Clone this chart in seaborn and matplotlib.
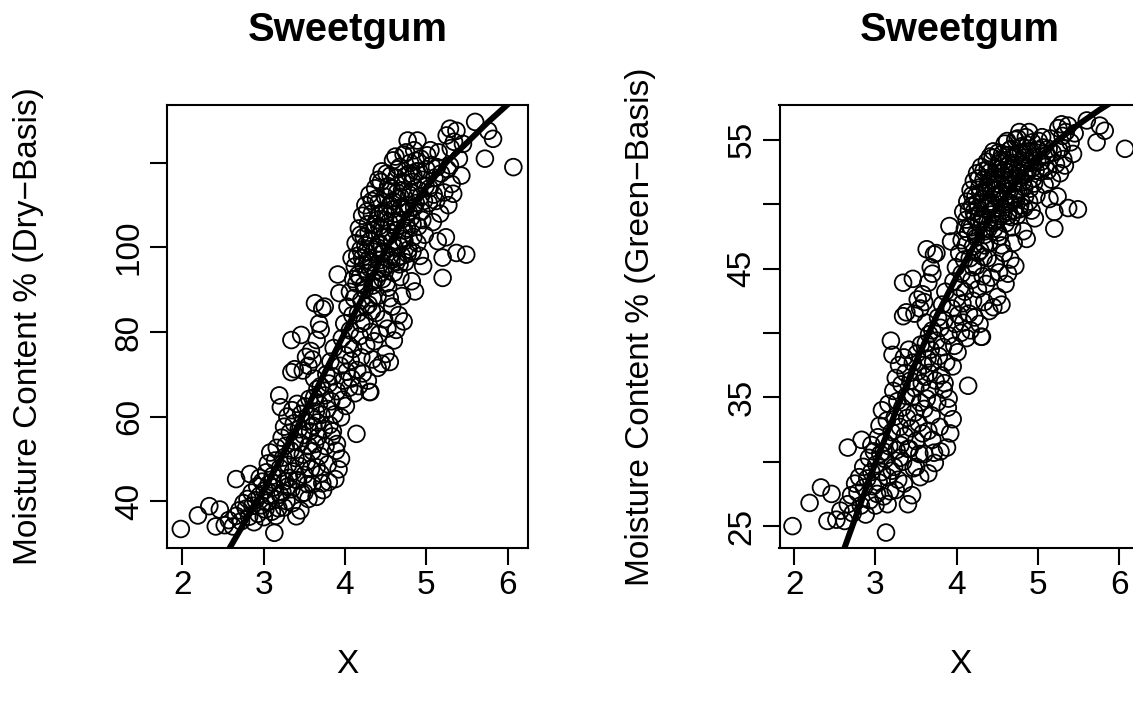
import matplotlib
matplotlib.use("Agg")
import matplotlib.pyplot as plt
import seaborn as sns
import pandas as pd

# ---------------- data ----------------
x_vals = [
    1.98, 2.19, 2.33, 2.46, 2.41, 2.52, 2.66, 2.83, 2.57,
    2.62, 2.66, 2.70, 2.72, 2.75, 2.78, 2.80, 2.82, 2.85, 2.86, 2.88, 2.90, 2.92, 2.93, 2.95, 2.97,
    2.98, 3.00, 3.01, 3.03, 3.04, 3.05, 3.06, 3.08, 3.08, 3.10, 3.11, 3.12, 3.13, 3.14, 3.15, 3.16, 3.17,
    3.18, 3.19, 3.20, 3.21, 3.22, 3.23, 3.24, 3.25, 3.26, 3.27, 3.28, 3.29, 3.30, 3.31, 3.32, 3.33,
    3.34, 3.35, 3.36, 3.37, 3.38, 3.39, 3.40, 3.41, 3.42, 3.43, 3.44, 3.45, 3.46, 3.47, 3.48, 3.49,
    3.50, 3.51, 3.52, 3.53, 3.54, 3.55, 3.56, 3.57, 3.58, 3.59, 3.60,
    3.34, 3.46, 3.34, 3.38, 3.48, 3.52, 3.55, 3.58, 3.63, 3.65, 3.68, 3.72, 3.75, 3.70, 3.62, 3.66, 3.60,
    3.61, 3.62, 3.63, 3.64, 3.65, 3.66, 3.67, 3.68, 3.69, 3.70, 3.71, 3.72, 3.73, 3.74, 3.75, 3.76,
    3.77, 3.78, 3.79, 3.80, 3.81, 3.82, 3.83, 3.84, 3.85, 3.86, 3.87, 3.88, 3.89, 3.90, 3.91, 3.92,
    3.93, 3.94, 3.95, 3.96, 3.97, 3.98, 3.99, 4.00, 4.01, 4.02, 4.03, 4.04, 4.05, 4.06, 4.07, 4.08,
    4.09, 4.10,
    4.12, 4.14, 4.15, 4.17, 4.18, 4.20, 4.22, 4.24, 4.26, 4.28, 4.30, 4.31, 4.32, 4.34, 4.36, 4.38,
    4.40, 4.42, 4.45, 4.48, 4.50, 4.52, 4.55, 4.58, 4.60, 4.63, 4.66, 4.70, 4.72,
    4.11, 4.12, 4.13, 4.14, 4.15, 4.16, 4.17, 4.18, 4.19, 4.20, 4.21, 4.22, 4.23, 4.24, 4.25, 4.26,
    4.27, 4.28, 4.29, 4.30, 4.31, 4.32, 4.33, 4.34, 4.35, 4.36, 4.37, 4.38, 4.39, 4.40, 4.41, 4.42,
    4.43, 4.44, 4.45, 4.46, 4.47, 4.48, 4.49, 4.50, 4.51, 4.52, 4.53, 4.54, 4.55, 4.56, 4.57, 4.58,
    4.59, 4.60, 4.61, 4.62, 4.63, 4.64, 4.65, 4.66, 4.67, 4.68, 4.69, 4.70, 4.71, 4.72, 4.73, 4.74,
    4.75, 4.76, 4.77, 4.78, 4.79, 4.80, 4.81, 4.82, 4.83, 4.84, 4.85, 4.86, 4.87, 4.88, 4.89, 4.90,
    4.91, 4.92, 4.93, 4.94, 4.95, 4.96, 4.97, 4.98, 5.00, 5.01, 5.03,
    4.28, 4.35, 4.42, 4.47, 4.52, 4.58, 4.63, 4.68, 4.73, 4.78, 4.83, 4.55, 4.40, 4.33, 4.45, 4.62, 4.50,
    5.04, 5.06, 5.08, 5.10, 5.12, 5.14, 5.15, 5.17, 5.18, 5.20, 5.20, 5.22, 5.24, 5.25, 5.26, 5.27,
    5.29, 5.29, 5.30, 5.31, 5.33, 5.34, 5.37, 5.37, 5.40, 5.43, 5.45, 5.49, 5.60, 5.72, 5.76, 5.82, 6.07,
    2.95, 3.02, 3.10, 3.15, 3.20, 3.25, 3.30, 3.35, 3.40, 3.45, 3.50, 3.55, 3.60, 3.65, 3.70, 3.80,
    3.85, 3.90, 3.95,
    4.16, 4.19, 4.21, 4.23, 4.25, 4.27, 4.29, 4.31, 4.33, 4.35, 4.37, 4.39, 4.41, 4.43, 4.45, 4.47,
    4.49, 4.51, 4.53, 4.55, 4.57, 4.59, 4.61, 4.63, 4.65, 4.67, 4.69, 4.71, 4.73, 4.75, 4.77, 4.79,
    4.81, 4.83, 4.85, 4.87, 4.89, 4.91, 4.93, 4.95, 4.38, 4.44, 4.56, 4.64, 4.70, 4.76, 4.84, 4.99,
    5.05, 5.09, 5.13, 4.20, 4.26, 4.34, 4.10, 4.06, 4.08,
]

dry_vals = [
    33.4, 36.6, 38.8, 38.0, 34.0, 34.3, 45.2, 46.4, 35.5,
    34.0, 36.5, 37.8, 35.2, 39.5, 38.2, 40.5, 36.3, 42.0, 38.9, 35.0, 40.2, 43.5, 37.0, 41.3, 39.0,
    44.6, 36.2, 42.5, 46.8, 39.6, 48.9, 44.0, 41.2, 51.5, 37.5, 46.0, 43.2, 32.5, 49.6, 40.4, 52.6, 45.4,
    38.3, 65.0, 47.8, 62.2, 55.0, 42.1, 50.3, 57.6, 44.7, 53.1, 40.0, 60.0, 48.6, 45.5, 56.2, 52.0,
    42.8, 61.5, 47.0, 58.4, 54.1, 50.2, 36.4, 63.0, 44.9, 57.0, 48.3, 53.8, 60.6, 41.8, 51.0, 55.6,
    46.2, 62.4, 58.8, 49.3, 44.0, 53.0, 64.2, 56.5, 47.6, 60.0, 51.8,
    78.1, 79.3, 70.5, 71.2, 70.9, 74.1, 72.0, 75.5, 86.8, 78.1, 82.0, 85.5, 86.0, 80.5, 69.0, 66.5, 73.5,
    57.8, 64.5, 53.5, 61.2, 48.0, 58.6, 55.2, 63.0, 50.7, 67.2, 60.4, 44.2, 42.6, 57.0, 65.0, 53.0,
    70.0, 61.8, 48.7, 67.8, 58.0, 73.0, 63.6, 55.3, 69.5, 76.2, 60.5, 45.2, 51.9, 66.0, 93.6, 47.5,
    89.2, 72.0, 59.8, 78.5, 64.0, 68.5, 82.0, 74.5, 62.5, 70.6, 86.0, 77.0, 66.8, 80.4, 73.2, 69.0,
    84.0, 76.0,
    65.5, 55.9, 71.0, 67.2, 79.0, 74.0, 70.2, 82.5, 76.8, 68.5, 65.8, 65.8, 80.0, 73.5, 77.8, 84.5,
    71.5, 79.5, 72.5, 83.0, 74.8, 80.8, 72.9, 86.0, 78.0, 80.5, 84.0, 88.5, 82.5,
    88.0, 95.5, 101.0, 91.5, 98.0, 84.5, 104.5, 93.0, 99.5, 87.5, 107.5, 96.0, 102.5, 90.0, 110.0, 99.0,
    94.0, 105.5, 86.5, 112.5, 101.5, 96.5, 108.0, 91.0, 104.0, 99.5, 114.0, 94.5, 106.5, 88.5, 110.5, 101.0,
    97.0, 115.5, 104.5, 92.5, 108.5, 99.0, 112.0, 95.5, 117.5, 102.5, 90.5, 106.0, 110.0, 98.0, 114.0, 101.5,
    120.6, 94.0, 108.0, 104.0, 116.5, 97.5, 111.5, 100.5, 119.0, 93.0, 106.5, 113.5, 102.0, 122.0, 109.0, 96.5,
    117.0, 104.5, 125.3, 99.5, 112.5, 120.0, 107.0, 92.0, 115.5, 102.5, 123.0, 89.6, 110.5, 118.0, 125.3, 105.0,
    113.5, 98.0, 121.0, 108.5, 116.0, 95.6, 111.0, 103.0, 118.5, 121.8, 110.5,
    97.0, 92.0, 105.0, 95.0, 113.5, 109.0, 96.5, 112.0, 101.5, 108.5, 99.0, 88.0, 100.0, 85.0, 118.0, 121.5, 108.0,
    114.0, 119.5, 106.0, 116.5, 111.0, 101.5, 122.5, 108.0, 117.5, 97.6, 92.8, 113.0, 102.4, 126.5, 118.5, 110.0,
    128.1, 119.4, 123.5, 115.0, 112.7, 125.0, 127.6, 98.7, 121.0, 117.0, 124.5, 98.3, 129.7, 121.0, 127.6, 125.7, 119.0,
    45.5, 38.0, 44.5, 36.5, 41.5, 38.5, 43.5, 39.5, 45.0, 37.8, 42.0, 40.5, 44.0, 41.0, 46.5, 44.5,
    56.5, 53.5, 50.0,
    93.5, 103.0, 97.5, 91.0, 100.5, 108.5, 103.5, 95.0, 111.0, 99.0, 105.5, 92.5, 116.0, 108.0, 98.5, 102.5,
    106.5, 91.5, 114.5, 103.5, 97.0, 111.0, 100.0, 106.0, 118.5, 96.0, 109.5, 115.5, 104.0, 122.5, 98.5, 117.5,
    113.0, 105.5, 109.5, 120.5, 101.0, 118.0, 112.0, 106.5, 111.5, 94.0, 117.0, 113.0, 98.0, 110.0, 117.0, 114.5,
    123.0, 112.5, 119.0, 82.0, 86.0, 88.0, 92.5, 89.5, 97.5,
]

green_vals = [
    25.0, 26.8, 28.0, 27.5, 25.4, 25.5, 31.1, 31.7, 26.2,
    25.4, 26.7, 27.4, 26.0, 28.3, 27.6, 28.8, 26.6, 29.6, 28.0, 25.9, 28.7, 30.3, 27.0, 29.2, 28.1,
    30.8, 26.6, 29.8, 31.9, 28.4, 32.8, 30.6, 29.2, 34.0, 27.3, 31.5, 30.2, 24.5, 33.2, 28.8, 34.5, 31.2,
    27.7, 39.4, 32.3, 38.3, 35.5, 29.6, 33.5, 36.5, 30.9, 34.7, 28.6, 37.5, 32.7, 31.3, 36.0, 34.2,
    30.0, 38.1, 32.0, 36.9, 35.1, 33.4, 26.7, 38.7, 31.0, 36.3, 32.6, 35.0, 37.7, 29.5, 33.8, 35.7,
    31.6, 38.4, 37.0, 33.0, 30.6, 34.6, 39.1, 36.1, 32.2, 37.5, 34.1,
    43.9, 44.2, 41.3, 41.6, 41.5, 42.6, 41.9, 43.0, 46.5, 43.9, 45.1, 46.1, 46.2, 44.6, 40.8, 39.9, 42.4,
    36.6, 39.2, 34.9, 38.0, 32.4, 36.9, 35.6, 38.7, 33.6, 40.2, 37.7, 30.7, 29.9, 36.3, 39.4, 34.6,
    41.2, 38.2, 32.7, 40.4, 36.7, 42.2, 38.9, 35.6, 41.0, 43.2, 37.7, 31.1, 34.2, 39.8, 48.3, 32.2,
    47.1, 41.9, 37.4, 44.0, 39.0, 40.7, 45.1, 42.7, 38.5, 41.4, 46.2, 43.5, 40.0, 44.6, 42.3, 40.8,
    45.7, 43.2,
    39.6, 35.9, 41.5, 40.2, 44.1, 42.5, 41.2, 45.2, 43.4, 40.7, 39.7, 39.7, 44.4, 42.4, 43.8, 45.8,
    41.7, 44.3, 42.0, 45.4, 42.8, 44.7, 42.2, 46.2, 43.8, 44.6, 45.7, 47.0, 45.2,
    46.8, 48.8, 50.2, 47.8, 49.5, 45.8, 51.1, 48.2, 49.9, 46.7, 51.8, 49.0, 50.6, 47.4, 52.4, 49.7,
    48.5, 51.3, 46.4, 52.9, 50.4, 49.1, 51.9, 47.6, 51.0, 49.9, 53.3, 48.6, 51.6, 47.0, 52.5, 50.2,
    49.2, 53.6, 51.1, 48.1, 52.0, 49.7, 52.8, 48.8, 54.0, 50.6, 47.5, 51.5, 52.4, 49.5, 53.3, 50.4,
    54.7, 48.5, 51.9, 51.0, 53.8, 49.4, 52.7, 50.1, 54.3, 48.2, 51.6, 53.2, 50.5, 55.0, 52.2, 49.1,
    53.9, 51.1, 55.6, 49.9, 52.9, 54.5, 51.7, 47.9, 53.6, 50.6, 55.2, 47.3, 52.5, 54.1, 55.6, 51.2,
    53.2, 49.5, 54.8, 52.0, 53.7, 48.9, 52.6, 50.7, 54.2, 54.9, 52.5,
    49.2, 47.9, 51.2, 48.7, 53.2, 52.2, 49.1, 52.8, 50.4, 52.0, 49.7, 46.8, 50.0, 45.9, 54.1, 54.9, 51.9,
    53.3, 54.4, 51.5, 53.8, 52.6, 50.4, 55.1, 51.9, 54.0, 49.4, 48.1, 53.1, 50.6, 55.9, 54.2, 52.4,
    56.2, 54.4, 55.3, 53.5, 53.0, 55.6, 56.1, 49.7, 54.8, 53.9, 55.5, 49.6, 56.5, 54.8, 56.1, 55.7, 54.3,
    31.3, 27.5, 30.8, 26.7, 29.3, 27.8, 30.3, 28.3, 31.0, 27.4, 29.6, 28.8, 30.6, 29.1, 31.7, 30.8,
    36.1, 34.9, 33.3,
    48.3, 50.7, 49.4, 47.6, 50.1, 52.0, 50.9, 48.7, 52.6, 49.7, 51.3, 48.1, 53.7, 51.9, 49.6, 50.6,
    51.6, 47.8, 53.4, 50.9, 49.2, 52.6, 50.0, 51.5, 54.2, 49.0, 52.3, 53.6, 51.0, 55.1, 49.6, 54.0,
    53.1, 51.3, 52.3, 54.6, 50.2, 54.1, 52.8, 51.6, 52.7, 48.5, 53.9, 53.1, 49.5, 52.4, 53.9, 53.4,
    55.2, 52.9, 54.3, 45.1, 46.2, 46.8, 48.1, 47.2, 49.4,
]

# fitted curves
dry_curve_x = [2.55, 2.75, 3.00, 3.25, 3.50, 3.75, 4.00, 4.25, 4.50, 4.75, 5.00, 5.25, 5.50, 5.75, 6.05]
dry_curve_y = [27.9, 34.5, 42.5, 51.5, 60.8, 70.4, 80.0, 89.5, 99.5, 107.5, 114.3, 120.2, 124.8, 129.5, 134.7]
green_curve_x = [2.55, 2.75, 3.00, 3.25, 3.50, 3.75, 4.00, 4.25, 4.50, 4.75, 5.00, 5.25, 5.50, 5.75, 6.00]
green_curve_y = [22.1, 25.6, 29.9, 33.9, 37.8, 41.3, 44.4, 47.2, 49.8, 51.9, 53.6, 55.0, 56.2, 57.3, 58.3]

x_ticks = [2, 3, 4, 5, 6]
dry_ticks = [40, 60, 80, 100, 120]
dry_tick_labels = ["40", "60", "80", "100", ""]
green_ticks = [25, 30, 35, 40, 45, 50, 55]
green_tick_labels = ["25", "", "35", "", "45", "", "55"]

title = "Sweetgum"
dry_label = "Moisture Content % (Dry\u2212Basis)"
green_label = "Moisture Content % (Green\u2212Basis)"
x_label = "X"

# ---------------- styling ----------------
sns.set_style("white")
plt.rcParams["font.family"] = ["Liberation Sans", "DejaVu Sans"]
plt.rcParams["axes.linewidth"] = 1.5
plt.rcParams["text.color"] = "black"
plt.rcParams["axes.labelcolor"] = "black"
plt.rcParams["xtick.color"] = "black"
plt.rcParams["ytick.color"] = "black"

W, H = 1133, 708
fig = plt.figure(figsize=(W / 100, H / 100), dpi=100)
fig.patch.set_facecolor("white")


def px_axes(left, top, right, bottom):
    return [left / W, 1 - bottom / H, (right - left) / W, (bottom - top) / H]


ax1 = fig.add_axes(px_axes(167, 105, 528, 548))
ax2 = fig.add_axes(px_axes(779.5, 105, 1140.5, 548))

df_dry = pd.DataFrame({"x": x_vals, "y": dry_vals})
df_green = pd.DataFrame({"x": x_vals, "y": green_vals})
df_dry_curve = pd.DataFrame({"x": dry_curve_x, "y": dry_curve_y})
df_green_curve = pd.DataFrame({"x": green_curve_x, "y": green_curve_y})

panels = [
    (ax1, df_dry, df_dry_curve, (1.81, 6.25), (28.9, 133.7), dry_ticks, dry_tick_labels, dry_label),
    (ax2, df_green, df_green_curve, (1.82, 6.26), (23.3, 57.7), green_ticks, green_tick_labels, green_label),
]

for ax, dfp, dfc, xl, yl, yt, ytl, ylab in panels:
    sns.scatterplot(data=dfp, x="x", y="y", ax=ax, s=145, marker="o",
                    facecolor="none", edgecolor="black", linewidth=1.3, legend=False)
    for coll in ax.collections:
        coll.set_facecolor("none")
        coll.set_edgecolor("black")
        coll.set_linewidth(1.3)
    sns.lineplot(data=dfc, x="x", y="y", ax=ax, color="black", linewidth=4.3,
                 sort=False, estimator=None, legend=False)
    ax.set_xlim(*xl)
    ax.set_ylim(*yl)
    ax.minorticks_off()
    ax.set_xticks(x_ticks)
    ax.set_xticklabels([str(t) for t in x_ticks])
    ax.set_yticks(yt)
    ax.set_yticklabels(ytl, rotation=90, va="center")
    ax.tick_params(axis="both", which="major", direction="out", length=12,
                   width=1.5, labelsize=24, colors="black", pad=4,
                   bottom=True, left=True, top=False, right=False)
    for sp in ax.spines.values():
        sp.set_visible(True)
        sp.set_color("black")
        sp.set_linewidth(1.5)
    ax.set_title(title, fontsize=28.8, fontweight="bold", y=1.17, va="center", pad=0,
                 color="black")
    ax.set_xlabel(x_label, fontsize=24, va="center", color="black")
    ax.xaxis.set_label_coords(0.5, -0.264)
    ax.set_ylabel(ylab, fontsize=24, va="center", color="black")
    ax.yaxis.set_label_coords(-0.385, 0.5)
    ax.grid(False)

fig.savefig("out.png", dpi=100, facecolor="white")
